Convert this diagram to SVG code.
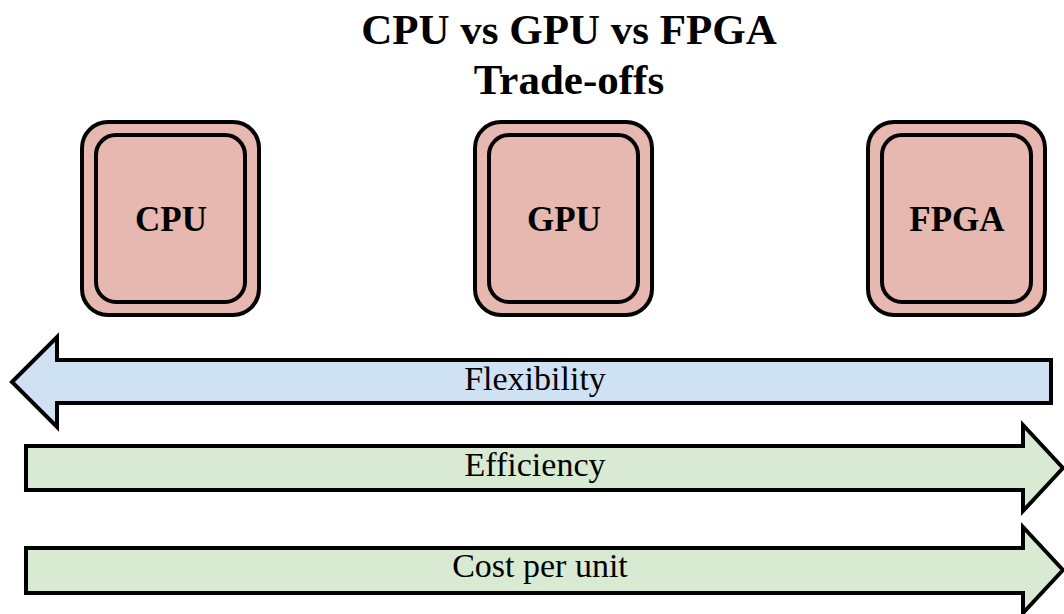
<svg xmlns="http://www.w3.org/2000/svg" width="1064" height="614" viewBox="0 0 1064 614">
  <style>
    .title { font-family: "Liberation Serif", "Times New Roman", serif; font-weight: bold; font-size: 43px; fill: #000; text-anchor: middle; }
    .chip-outer { fill: #e6b8af; stroke: #000; stroke-width: 4; }
    .chip-inner { fill: #e6b8af; stroke: #000; stroke-width: 4; }
    .chip-label { font-family: "Liberation Serif", "Times New Roman", serif; font-weight: bold; font-size: 35px; fill: #000; text-anchor: middle; }
    .arrow { stroke: #000; stroke-width: 4; stroke-linejoin: miter; }
    .blue { fill: #cfe2f3; }
    .green { fill: #d9ead3; }
    .arrow-label { font-family: "Liberation Serif", "Times New Roman", serif; font-size: 34px; fill: #000; text-anchor: middle; }
  </style>
  <rect width="1064" height="614" fill="#fff"/>

  <g id="title">
    <text class="title" x="569" y="44">CPU vs GPU vs FPGA</text>
    <text class="title" x="569" y="94">Trade-offs</text>
  </g>

  <g id="cpu">
    <rect class="chip-outer" x="82" y="122" width="177" height="193" rx="26"/>
    <rect class="chip-inner" x="96" y="135" width="149" height="167" rx="20"/>
    <text class="chip-label" x="171" y="231">CPU</text>
  </g>

  <g id="gpu">
    <rect class="chip-outer" x="475" y="122" width="177" height="193" rx="26"/>
    <rect class="chip-inner" x="489" y="135" width="149" height="167" rx="20"/>
    <text class="chip-label" x="564" y="231">GPU</text>
  </g>

  <g id="fpga">
    <rect class="chip-outer" x="868" y="122" width="177" height="193" rx="26"/>
    <rect class="chip-inner" x="882" y="135" width="149" height="167" rx="20"/>
    <text class="chip-label" x="957" y="231">FPGA</text>
  </g>

  <g id="connectors">
    <g id="flexibility">
      <polygon class="arrow blue" points="12,382 57,337 57,360 1051,360 1051,403 57,403 57,427"/>
      <text class="arrow-label" x="535" y="390">Flexibility</text>
    </g>
    <g id="efficiency">
      <polygon class="arrow green" points="26,446 1023,446 1023,425 1063,468 1023,511 1023,490 26,490"/>
      <text class="arrow-label" x="535" y="476">Efficiency</text>
    </g>
    <g id="cost">
      <polygon class="arrow green" points="26,548 1023,548 1023,527 1063,570 1023,613 1023,593 26,593"/>
      <text class="arrow-label" x="540" y="577">Cost per unit</text>
    </g>
  </g>
</svg>
